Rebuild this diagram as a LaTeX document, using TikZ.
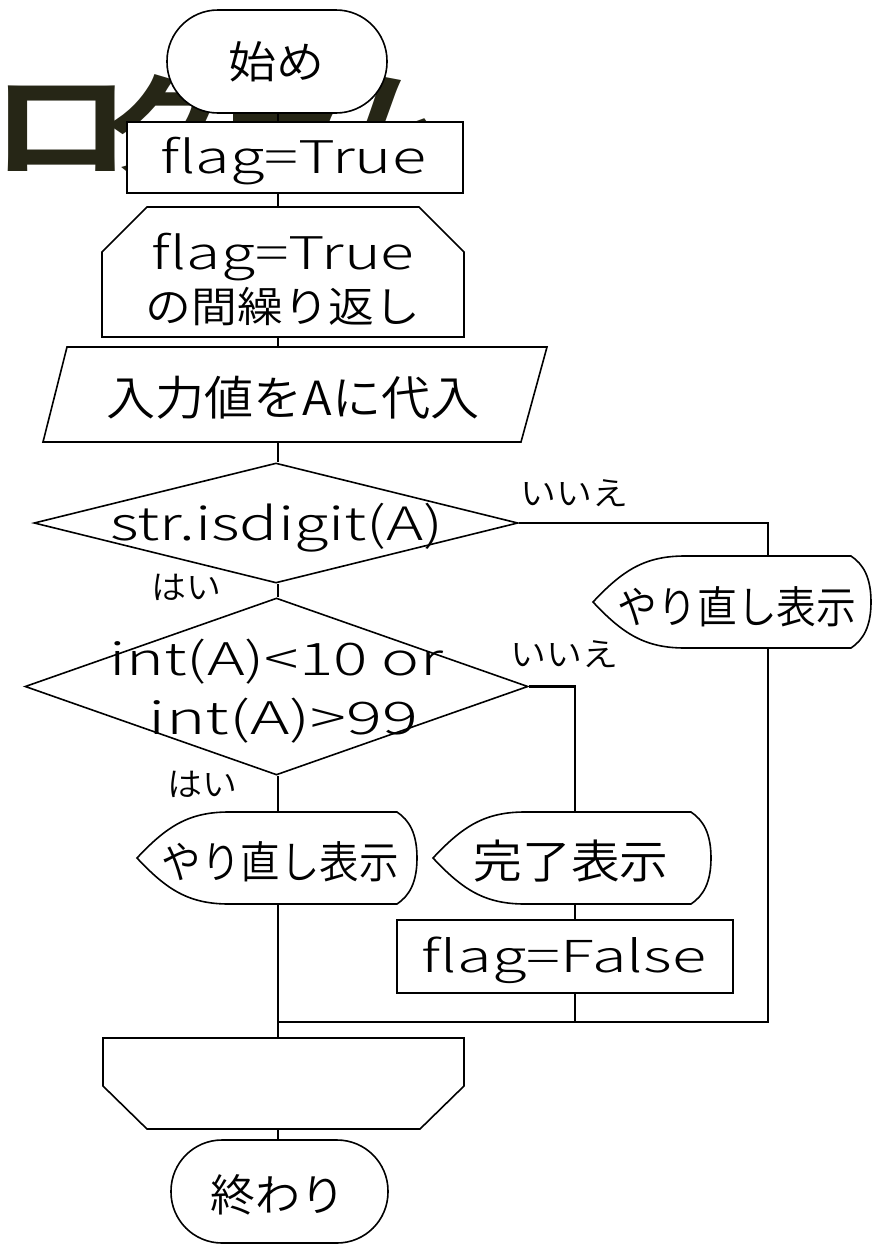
\documentclass[tikz,border=0pt]{standalone}
\usepackage{fontspec}
\setmainfont{Noto Sans CJK JP}
\IfFontExistsTF{Noto Sans CJK JP DemiLight}
  {\newfontfamily\jp{Noto Sans CJK JP DemiLight}}
  {\newfontfamily\jp{Noto Sans CJK JP}}
\IfFontExistsTF{Noto Sans CJK JP Light}
  {\newfontfamily\lat{Noto Sans CJK JP Light}}
  {\newfontfamily\lat{Noto Sans CJK JP}}
\IfFontExistsTF{Noto Sans CJK JP Bold}
  {\newfontfamily\bgf{Noto Sans CJK JP Bold}}
  {\newfontfamily\bgf{Noto Sans CJK JP}[FakeBold=3]}
\usepackage{graphicx}
\usetikzlibrary{shapes.geometric,calc}
\definecolor{bgtext}{RGB}{38,38,22}
\newcommand\fittext[3]{\resizebox{#2pt}{\height}{\fontsize{#1pt}{#1pt}\selectfont #3}}
\newcommand\bgchar[2]{\makebox[113pt][l]{\scalebox{#1}[1]{#2}}}
\newcommand\dispshape[4]{%
 \filldraw[shp] (#1,{(#2+#4)/2}) .. controls +(30,-32) and +(-40,0) .. (#1+92,#2) -- (#3-20,#2)
   .. controls +(12,8) and +(0,-25) .. (#3,{(#2+#4)/2})
   .. controls +(0,25) and +(12,-8) .. (#3-20,#4) -- (#1+92,#4)
   .. controls +(-40,0) and +(30,32) .. (#1,{(#2+#4)/2}) -- cycle;}
\begin{document}
\begin{tikzpicture}[x=1pt,y=-1pt,
  shp/.style={draw=black,line width=1.6pt,fill=white,line join=miter},
  conn/.style={draw=black,line width=2.2pt},
  thickconn/.style={draw=black,line width=2.8pt},
  blank/.style={inner sep=0pt,outer sep=0pt},
  lbl/.style={inner sep=0pt,outer sep=0pt,font=\jp},
  latl/.style={inner sep=0pt,outer sep=0pt,font=\lat}]
\fill[white] (0,0) rectangle (874,1245);
\useasboundingbox (0,0) rectangle (874,1245);
% background title text (partly hidden)
\node[anchor=base west,text=bgtext,inner sep=0pt,font=\bgf\fontsize{118pt}{118pt}\selectfont] (bg) at (-10,169)
  {\bgchar{1.2}{ロ}\bgchar{1.1}{グ}\bgchar{1.1}{ラ}\bgchar{1.1}{ム}};
% shapes
\node[shp,rounded corners=51pt,minimum width=220pt,minimum height=103pt,inner sep=0pt] (start) at (277,61.5) {};
\node[lbl] (startt) at (276,62) {\fittext{44}{96}{始め}};
\node[shp,minimum width=336pt,minimum height=71pt,inner sep=0pt] (box1) at (295,157.5) {};
\node[latl] (box1t) at (293,161) {\fittext{45}{266}{flag=True}};
\filldraw[shp] (102,337) -- (102,252) -- (147,207) -- (419,207) -- (464,252) -- (464,337) -- cycle;
\node[blank,minimum width=362pt,minimum height=130pt] (loop1) at (283,272) {};
\node[latl] (loop1a) at (283,257) {\fittext{45}{263}{flag=True}};
\node[lbl] (loop1b) at (283,307) {\fittext{42}{275}{の間繰り返し}};
\filldraw[shp] (67,347) -- (547,347) -- (521,442) -- (43,442) -- cycle;
\node[blank,minimum width=504pt,minimum height=95pt] (input) at (295,394.5) {};
\node[lbl] (inputt) at (293,398) {\fittext{47}{373}{入力値をAに代入}};
\node[shp,diamond,minimum width=484pt,minimum height=120pt,inner sep=0pt] (d1) at (276,523) {};
\node[latl] (d1t) at (277,528) {\fittext{46}{333}{str.isdigit(A)}};
\node[shp,diamond,minimum width=503pt,minimum height=177pt,inner sep=0pt] (d2) at (276.5,686.5) {};
\node[latl] (d2a) at (276.5,662) {\fittext{45}{333}{int(A)<10 or}};
\node[latl] (d2b) at (283.5,721) {\fittext{45}{269}{int(A)>99}};
\dispshape{593}{556}{871}{648}
\node[blank,minimum width=278pt,minimum height=92pt] (disp1) at (732,602) {};
\node[lbl] (disp1t) at (737,607) {\fittext{44}{239}{やり直し表示}};
\dispshape{137}{812}{417}{904}
\node[blank,minimum width=280pt,minimum height=92pt] (disp2) at (277,858) {};
\node[lbl] (disp2t) at (280,862) {\fittext{44}{237}{やり直し表示}};
\dispshape{433}{812}{711}{904}
\node[blank,minimum width=278pt,minimum height=92pt] (disp3) at (572,858) {};
\node[lbl] (disp3t) at (571,861) {\fittext{46}{195}{完了表示}};
\node[shp,minimum width=336pt,minimum height=73pt,inner sep=0pt] (box2) at (565,956.5) {};
\node[latl] (box2t) at (564,960) {\fittext{44}{284}{flag=False}};
\filldraw[shp] (103,1038) -- (464,1038) -- (464,1086) -- (420,1129) -- (147,1129) -- (103,1086) -- cycle;
\node[blank,minimum width=361pt,minimum height=91pt] (loop2) at (283.5,1083.5) {};
\node[shp,rounded corners=51pt,minimum width=217pt,minimum height=103pt,inner sep=0pt] (end) at (279.5,1191.5) {};
\node[lbl] (endt) at (277.5,1194.5) {\fittext{44}{135}{終わり}};
% labels
\node[lbl] (no1) at (574,493) {\fittext{33}{108}{いいえ}};
\node[lbl] (yes1) at (186,587) {\fittext{33}{70}{はい}};
\node[lbl] (no2) at (564,654) {\fittext{33}{108}{いいえ}};
\node[lbl] (yes2) at (202,784) {\fittext{33}{70}{はい}};
% connectors
\coordinate (sx) at (278,0);
\coordinate (rx) at (768,0);
\coordinate (mx) at (575,0);
\coordinate (my) at (0,1022);
\draw[conn] (start.south -| sx) -- (box1.north -| sx);
\draw[conn] (box1.south -| sx) -- (loop1.north -| sx);
\draw[conn] (loop1.south -| sx) -- (input.north -| sx);
\draw[conn] (input.south -| sx) -- (d1.north -| sx);
\draw[conn] (d1.south -| sx) -- (d2.north -| sx);
\draw[conn] (d2.south -| sx) -- (disp2.north -| sx);
\draw[conn] (disp2.south -| sx) -- (loop2.north -| sx);
\draw[conn] (loop2.south -| sx) -- (end.north -| sx);
\draw[thickconn] (d1.east) -| (disp1.north -| rx);
\draw[thickconn] (disp1.south -| rx) |- (my -| sx);
\draw[conn] (d2.east) -| (disp3.north -| mx);
\draw[conn] (disp3.south -| mx) -- (box2.north -| mx);
\draw[conn] (box2.south -| mx) -- (my -| mx);
\end{tikzpicture}
\end{document}
